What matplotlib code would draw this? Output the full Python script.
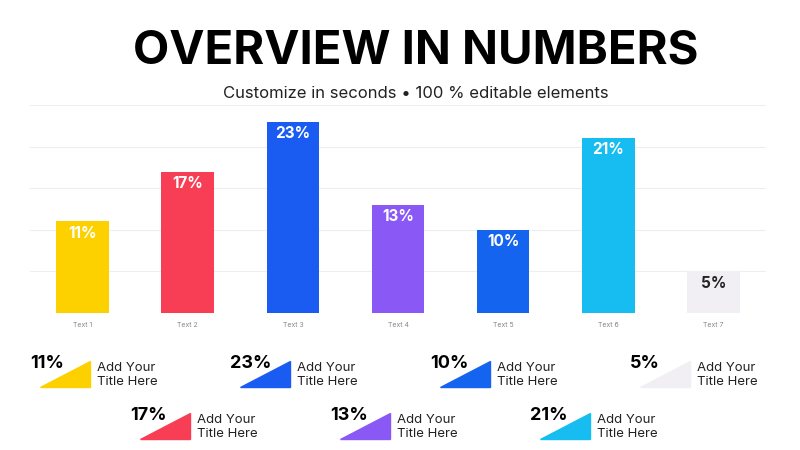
import matplotlib.pyplot as plt
from matplotlib.patches import Polygon

categories = ['Text 1', 'Text 2', 'Text 3', 'Text 4', 'Text 5', 'Text 6', 'Text 7']
values = [11, 17, 23, 13, 10, 21, 5]
colors = ['#FDD000', '#F73E55', '#1A5CF2', '#8A58F5', '#1464F0', '#17BDF0', '#F1EFF3']
label_colors = ['white'] * 6 + ['#222222']

plt.rcParams['font.family'] = ['Inter', 'DejaVu Sans']
W, H = 800, 450
fig = plt.figure(figsize=(8, 4.5), dpi=100)

def fx(x):
    return x / W

def fy(y):
    return 1 - y / H

fig.text(0.52, fy(52), 'OVERVIEW IN NUMBERS', ha='center', va='center',
         fontsize=34, fontweight='bold', color='black')
fig.text(0.52, fy(93), 'Customize in seconds • 100 % editable elements', ha='center',
         va='center', fontsize=12, color='#222222')

ax = fig.add_axes([fx(30), fy(313), fx(736), (313 - 105) / H])
ax.bar(range(len(values)), values, width=0.5, color=colors, zorder=2)
for i, v in enumerate(values):
    ax.text(i, v - 0.5, f'{v}%', ha='center', va='top', fontsize=11,
            fontweight='bold', color=label_colors[i])
ax.set_xlim(-0.5, 6.5)
ax.set_ylim(0, 25)
ax.set_yticks(range(0, 26, 5))
ax.yaxis.grid(True, color='#EEEEEE', lw=0.8, zorder=0)
ax.tick_params(axis='y', left=False, labelleft=False)
ax.tick_params(axis='x', bottom=False, labelsize=5, labelcolor='#888888', pad=3)
ax.set_xticks(range(len(values)))
ax.set_xticklabels(categories)
for s in ax.spines.values():
    s.set_visible(False)

# legend blocks: order follows the picture
legend_pos = [(0, 30, 375), (2, 230, 375), (4, 430, 375), (6, 630, 375),
              (1, 130, 427), (3, 330, 427), (5, 530, 427)]
for idx, x0, yc in legend_pos:
    tri = Polygon([[fx(x0 + 10), fy(yc + 12)], [fx(x0 + 60), fy(yc + 12)],
                   [fx(x0 + 60), fy(yc - 14)]], closed=True,
                  transform=fig.transFigure, color=colors[idx])
    fig.add_artist(tri)
    fig.text(fx(x0), fy(yc - 12), f'{values[idx]}%', ha='left', va='center',
             fontsize=13, fontweight='bold', color='black')
    fig.text(fx(x0 + 67), fy(yc), 'Add Your\nTitle Here', ha='left', va='center',
             fontsize=9.5, color='#222222', linespacing=1.2)

fig.savefig('out.png', dpi=100, facecolor='white')
